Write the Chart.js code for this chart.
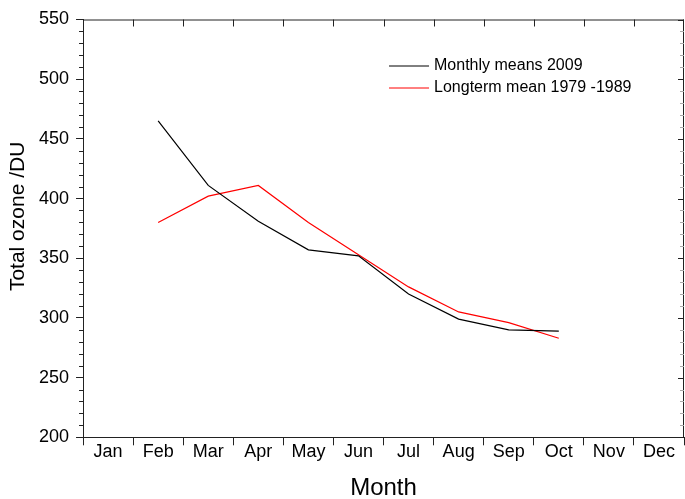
<!DOCTYPE html>
<html>
<head>
<meta charset="utf-8">
<script src="https://cdn.jsdelivr.net/npm/chart.js@4/dist/chart.umd.min.js"></script>
<style>
  body { margin: 0; background: #fff; }
  #wrap { width: 685px; height: 499px; }
</style>
</head>
<body>
<div id="wrap"><canvas id="ozoneChart"></canvas></div>
<script>
// data (DU)
const months = ['Jan', 'Feb', 'Mar', 'Apr', 'May', 'Jun', 'Jul', 'Aug', 'Sep', 'Oct', 'Nov', 'Dec'];
const means2009 = [null, 465, 411, 381, 357, 352, 320, 299, 290, 289, null, null];
const longterm = [null, 380, 402, 411, 380, 353, 326, 305, 296, 283, null, null];
const yTicks = [200, 250, 300, 350, 400, 450, 500, 550];
const yTitle = 'Total ozone /DU';

const FONT = '"Liberation Sans", Arial, sans-serif';
const AXIS = '#222';

// top/right frame, inward ticks, left minor ticks, y title and the legend box
const frameAndLegend = {
    id: 'frameAndLegend',
    afterDraw(chart) {
        const { ctx, chartArea: a, scales } = chart;
        const x = scales.x, y = scales.y;
        ctx.save();
        ctx.lineWidth = 1;
        ctx.strokeStyle = AXIS;
        const line = (x1, y1, x2, y2) => {
            ctx.beginPath(); ctx.moveTo(x1, y1); ctx.lineTo(x2, y2); ctx.stroke();
        };
        // top + right border
        line(a.left, a.top + 0.5, a.right, a.top + 0.5);
        line(a.right - 0.5, a.top, a.right - 0.5, a.bottom);

        // y minor ticks every 10
        for (let v = yTicks[0]; v <= yTicks[yTicks.length - 1]; v += 10) {
            const py = Math.round(y.getPixelForValue(v)) + 0.5;
            const major = v % 50 === 0;
            if (!major) {
                ctx.strokeStyle = AXIS;
                line(a.left - 4, py, a.left, py);
                ctx.strokeStyle = '#aaa';
                line(a.right - 4, py, a.right, py);
            } else {
                ctx.strokeStyle = AXIS;
                line(a.right - 6, py, a.right, py);
            }
        }
        // top ticks between months
        ctx.strokeStyle = AXIS;
        for (let i = 1; i < months.length; i++) {
            const px = Math.round((x.getPixelForValue(i - 1) + x.getPixelForValue(i)) / 2) + 0.5;
            line(px, a.top, px, a.top + 7);
        }

        // y axis title (sits a bit above the middle in the original)
        ctx.fillStyle = '#000';
        ctx.save();
        ctx.translate(18, (a.top + a.bottom) / 2 - 12);
        ctx.rotate(-Math.PI / 2);
        ctx.font = '21px ' + FONT;
        ctx.textAlign = 'center';
        ctx.textBaseline = 'middle';
        ctx.fillText(yTitle, 0, 0);
        ctx.restore();

        // legend
        ctx.font = '16px ' + FONT;
        ctx.textBaseline = 'middle';
        ctx.textAlign = 'left';
        chart.data.datasets.forEach((ds, i) => {
            const ly = a.top + 46 + i * 22;
            ctx.strokeStyle = ds.borderColor;
            line(a.left + 306, ly + 0.5, a.left + 346, ly + 0.5);
            ctx.fillText(ds.label, a.left + 351, ly);
        });
        ctx.restore();
    }
};

new Chart(document.getElementById('ozoneChart'), {
    type: 'line',
    data: {
        labels: months,
        datasets: [
            {
                label: 'Monthly means 2009',
                data: means2009,
                borderColor: '#000000',
                borderWidth: 1.2,
                pointRadius: 0,
                tension: 0
            },
            {
                label: 'Longterm mean 1979 -1989',
                data: longterm,
                borderColor: '#ff0000',
                borderWidth: 1.2,
                pointRadius: 0,
                tension: 0
            }
        ]
    },
    options: {
        responsive: true,
        maintainAspectRatio: false,
        animation: false,
        layout: { padding: { top: 19.5, right: 1, left: 32, bottom: 0 } },
        plugins: {
            legend: { display: false },
            tooltip: { enabled: false }
        },
        scales: {
            x: {
                type: 'category',
                offset: true,
                border: { display: true, color: AXIS, width: 1 },
                grid: {
                    offset: true,
                    drawOnChartArea: false,
                    tickLength: 8,
                    color: AXIS
                },
                ticks: {
                    color: '#000',
                    font: { family: FONT, size: 18 },
                    padding: -4,
                    maxRotation: 0,
                    autoSkip: false
                },
                title: {
                    display: true,
                    text: 'Month',
                    color: '#000',
                    font: { family: FONT, size: 24, lineHeight: 0.9 },
                    padding: { top: 18.5, bottom: 0 }
                }
            },
            y: {
                min: yTicks[0],
                max: yTicks[yTicks.length - 1],
                afterBuildTicks: scale => {
                    scale.ticks = yTicks.map(v => ({ value: v }));
                },
                border: { display: true, color: AXIS, width: 1 },
                grid: {
                    drawOnChartArea: false,
                    tickLength: 7,
                    color: AXIS
                },
                ticks: {
                    color: '#000',
                    font: { family: FONT, size: 18 },
                    padding: 7
                }
            }
        }
    },
    plugins: [frameAndLegend]
});
</script>
</body>
</html>
